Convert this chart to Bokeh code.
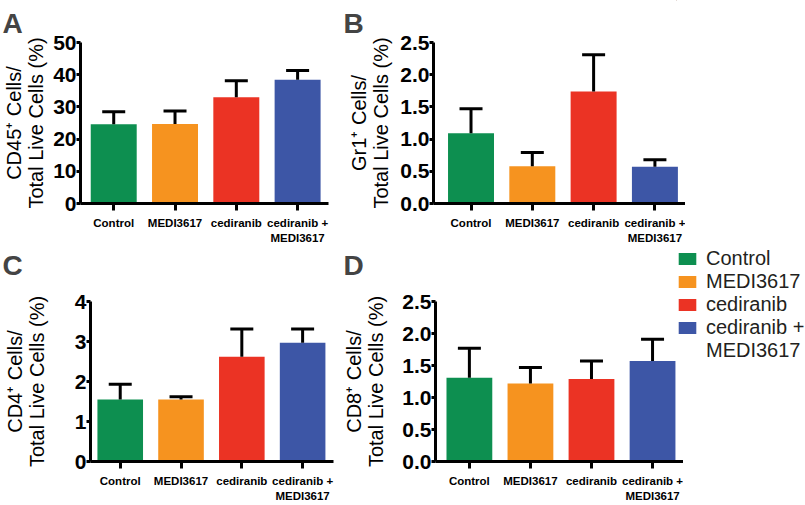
from bokeh.plotting import figure
from bokeh.models import (ColumnDataSource, Range1d, FixedTicker, Legend, LegendItem,
                          NumeralTickFormatter, Title)
from bokeh.layouts import column, row
from bokeh.embed import file_html
from bokeh.resources import INLINE

# ---- data ----
groups = ["Control", "MEDI3617", "cediranib", "cediranib +\nMEDI3617"]
legend_labels = ["Control", "MEDI3617", "cediranib", "cediranib +\nMEDI3617"]
colors = ["#0D8F50", "#F6931F", "#EB3324", "#3D56A6"]
positions = [1, 2, 3, 4]

cd45_mean = [24.6, 24.7, 33.0, 38.4]
cd45_sem = [3.9, 4.0, 5.1, 2.9]
gr1_mean = [1.09, 0.58, 1.74, 0.57]
gr1_sem = [0.38, 0.21, 0.57, 0.11]
cd4_mean = [1.55, 1.55, 2.62, 2.97]
cd4_sem = [0.38, 0.07, 0.69, 0.34]
cd8_mean = [1.31, 1.22, 1.29, 1.57]
cd8_sem = [0.46, 0.25, 0.28, 0.34]

y_ticks_a = [0, 10, 20, 30, 40, 50]
y_ticks_b = [0, 0.5, 1.0, 1.5, 2.0, 2.5]
y_ticks_c = [0, 1, 2, 3, 4]
y_ticks_d = [0, 0.5, 1.0, 1.5, 2.0, 2.5]

FONT = "Liberation Sans"


def letter_title(text, offset, standoff):
    return Title(text=text, align="left", offset=offset, text_font=FONT, text_font_style="bold",
                 text_font_size="28px", standoff=standoff)


def panel(letter, means, sems, ylabel, yticks, fmt, width, height, borders, xr, title_standoff,
          letter_offset, below_letter=None):
    bl, br, bt, bb = borders
    p = figure(width=width, height=height, output_backend="svg", toolbar_location=None,
               x_range=Range1d(*xr), y_range=Range1d(yticks[0], yticks[-1]),
               min_border_left=bl, min_border_right=br, min_border_top=bt, min_border_bottom=bb,
               title=None)
    p.outline_line_color = None
    p.grid.visible = False
    if letter:
        p.add_layout(letter_title(letter, letter_offset, 8), "above")

    upper = [m + s for m, s in zip(means, sems)]
    src = ColumnDataSource(dict(x=positions, top=means, upper=upper, color=colors))
    p.vbar(x="x", top="top", width=0.75, color="color", line_color=None, source=src)
    p.segment(x0="x", y0="top", x1="x", y1="upper", line_width=3, line_color="black", source=src)
    p.scatter(x="x", y="upper", marker="dash", size=23, line_width=3, line_color="black", source=src)

    xa = p.xaxis[0]
    xa.ticker = FixedTicker(ticks=positions)
    xa.major_label_overrides = {pos: g for pos, g in zip(positions, groups)}
    xa.axis_line_width = 3
    xa.major_tick_line_width = 3
    xa.major_tick_out = 7
    xa.major_tick_in = 0
    xa.minor_tick_line_color = None
    xa.major_label_text_font = FONT
    xa.major_label_text_font_style = "bold"
    xa.major_label_text_font_size = "11.5px"
    xa.major_label_text_color = "black"
    xa.major_label_standoff = 6
    xa.major_label_text_line_height = 1.3

    ya = p.yaxis[0]
    ya.ticker = FixedTicker(ticks=yticks)
    ya.formatter = NumeralTickFormatter(format=fmt)
    ya.axis_line_width = 3
    ya.major_tick_line_width = 3
    ya.major_tick_out = 4
    ya.major_tick_in = 0
    ya.minor_tick_line_color = None
    ya.major_label_text_font = FONT
    ya.major_label_text_font_style = "bold"
    ya.major_label_text_font_size = "21px"
    ya.major_label_text_color = "black"
    ya.major_label_standoff = 0
    ya.axis_label = ylabel
    ya.axis_label_text_font = FONT
    ya.axis_label_text_font_style = "normal"
    ya.axis_label_text_font_size = "20px"
    ya.axis_label_text_color = "black"
    ya.axis_label_text_line_height = 1.0
    ya.axis_label_standoff = title_standoff

    if below_letter:
        # letter of the panel underneath, placed in this panel's bottom margin
        p.add_layout(letter_title(below_letter[0], below_letter[1], 0), "below")
    return p, src


pa, _ = panel("A", cd45_mean, cd45_sem, "CD45\u207a Cells/\nTotal Live Cells (%)", y_ticks_a, "0",
              340, 287, (80, 12, 42, 80), (0.458, 4.504), 3, -78, ("C", -78))
pb, _ = panel("B", gr1_mean, gr1_sem, "Gr1\u207a Cells/\nTotal Live Cells (%)", y_ticks_b, "0.0",
              345, 287, (93, 0, 40, 84), (0.388, 4.499), 5, -90, ("D", -90))
pc, _ = panel(None, cd4_mean, cd4_sem, "CD4\u207a Cells/\nTotal Live Cells (%)", y_ticks_c, "0",
              340, 218, (88, 7, 13, 43), (0.511, 4.508), 24, 0)
pd_, src_d = panel(None, cd8_mean, cd8_sem, "CD8\u207a Cells/\nTotal Live Cells (%)", y_ticks_d, "0.0",
                   343, 218, (94, 0, 14, 44), (0.445, 4.507), 12, 0)

# legend panel (shares the data source of panel D; its bars lie outside its own view)
pl = figure(width=129, height=505, output_backend="svg", toolbar_location=None,
            x_axis_location=None, y_axis_location=None,
            x_range=Range1d(20, 21), y_range=Range1d(-2, -1),
            min_border_left=0, min_border_right=0, min_border_top=0, min_border_bottom=0)
pl.outline_line_color = None
pl.grid.visible = False
pl.background_fill_alpha = 0
pl.border_fill_alpha = 0
rl = pl.vbar(x="x", top="top", width=0.75, color="color", line_color=None, source=src_d)
r_blank = pl.vbar(x="x", top="top", width=0.75, fill_alpha=0, line_alpha=0, source=src_d)

items = []
for i, lab in enumerate(legend_labels):
    lines = lab.split("\n")
    items.append(LegendItem(label=lines[0], renderers=[rl], index=i))
    for extra in lines[1:]:
        # continuation line of a wrapped label, without its own swatch
        items.append(LegendItem(label=extra, renderers=[r_blank], index=i))

legend = Legend(items=items, location=(0, 143))
legend.label_text_font = FONT
legend.label_text_font_size = "20px"
legend.label_text_color = "#231F20"
legend.glyph_width = 22
legend.glyph_height = 15
legend.label_standoff = 8
legend.spacing = 0
legend.padding = 0
legend.margin = 0
legend.border_line_color = None
legend.background_fill_alpha = 0
pl.add_layout(legend)
pl.margin = (0, 0, 0, -9)

layout = row(column(row(pa, pb), row(pc, pd_)), pl)

open("out.html", "w").write(file_html(layout, INLINE))
